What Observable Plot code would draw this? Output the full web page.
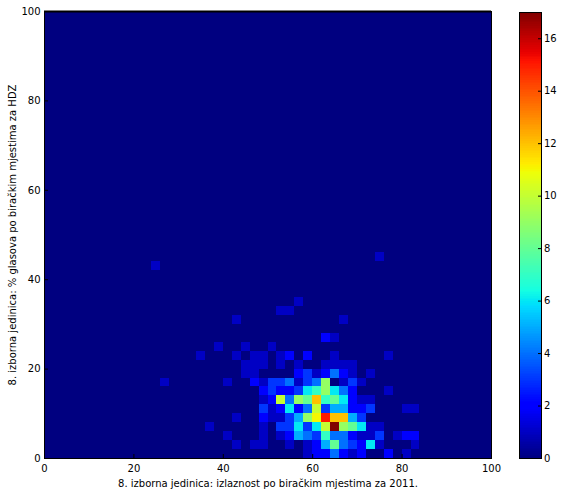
<!DOCTYPE html>
<html>
<head>
<meta charset="utf-8">
<script src="https://cdn.jsdelivr.net/npm/d3@7"></script>
<script src="https://cdn.jsdelivr.net/npm/@observablehq/plot@0.6"></script>
<style>
html,body{margin:0;padding:0;background:#fff;}
#chart{position:relative;width:562px;height:495px;overflow:hidden;}
#chart svg{position:absolute;left:0;top:0;background:transparent;}
</style>
</head>
<body>
<div id="chart"></div>
<script>
const xLabel = "8. izborna jedinica: izlaznost po biračkim mjestima za 2011.";
const yLabel = "8. izborna jedinica: % glasova po biračkim mjestima za HDZ";
const axisTicks = [0, 20, 40, 60, 80, 100];
const barTicks = [0, 2, 4, 6, 8, 10, 12, 14, 16];
const binWidth = 2;
const binCount = 50;
const maxCount = 17;

// [column, count] pairs per row of the 2-D histogram; absent bins are zero
const row0  = [[29,1],[30,2],[31,2],[32,4],[33,2],[34,1],[35,2],[38,2],[40,1]];
const row1  = [[21,1],[23,1],[24,1],[27,1],[29,1],[30,2],[31,5],[32,8],[33,4],[34,3],[35,2],[36,6],[37,1],[41,1]];
const row2  = [[20,1],[24,1],[26,1],[27,2],[28,5],[29,4],[30,3],[31,7],[32,4],[33,4],[34,2],[35,1],[36,1],[37,3],[39,1],[40,2],[41,2]];
const row3  = [[18,1],[24,1],[26,3],[27,3],[28,6],[29,3],[30,6],[31,10],[32,17],[33,9],[34,8],[35,6],[36,1],[37,1]];
const row4  = [[21,1],[24,2],[25,1],[26,1],[27,3],[28,5],[29,9],[30,11],[31,15],[32,12],[33,12],[34,5],[35,3]];
const row5  = [[24,3],[25,1],[26,2],[27,6],[28,2],[29,4],[30,10],[31,3],[32,5],[33,5],[34,2],[35,2],[36,3],[40,1],[41,1]];
const row6  = [[24,1],[25,2],[26,10],[27,4],[28,9],[29,8],[30,12],[31,7],[32,8],[33,6],[34,2],[35,1],[36,1]];
const row7  = [[24,2],[25,3],[26,2],[27,2],[28,3],[29,6],[30,7],[31,9],[32,6],[33,4],[34,2],[38,1]];
const row8  = [[13,1],[20,1],[23,2],[24,1],[25,3],[26,3],[27,4],[28,1],[29,3],[30,4],[31,9],[33,1],[34,3],[35,1]];
const row9  = [[22,1],[23,1],[28,2],[29,3],[30,1],[31,2],[32,4],[33,2],[34,1],[36,1]];
const row10 = [[22,1],[23,1],[24,1],[26,1],[28,1],[31,1],[32,1],[33,1],[34,1]];
const row11 = [[17,1],[21,1],[23,1],[24,1],[26,1],[27,2],[29,2],[32,1],[38,1]];
const row12 = [[19,1],[22,1],[25,1]];
const row13 = [[31,2],[32,1]];
const row15 = [[21,1],[33,1]];
const row16 = [[26,1],[27,1]];
const row17 = [[28,1]];
const row21 = [[12,1]];
const row22 = [[37,1]];
const rows = {0:row0,1:row1,2:row2,3:row3,4:row4,5:row5,6:row6,7:row7,8:row8,9:row9,10:row10,11:row11,12:row12,13:row13,15:row15,16:row16,17:row17,21:row21,22:row22};

const counts = new Map();
for (const [r, list] of Object.entries(rows)) for (const [c, n] of list) counts.set(c + ":" + r, n);
const cells = [];
for (let r = 0; r < binCount; r++) for (let c = 0; c < binCount; c++) {
  cells.push({x1: c * binWidth, x2: (c + 1) * binWidth, y1: r * binWidth, y2: (r + 1) * binWidth, n: counts.get(c + ":" + r) || 0});
}

// matplotlib "jet"
const ramp = (t, pts) => {
  for (let i = 1; i < pts.length; i++) if (t <= pts[i][0]) {
    const [a, va] = pts[i - 1], [b, vb] = pts[i];
    return va + (vb - va) * (t - a) / (b - a);
  }
  return pts[pts.length - 1][1];
};
const jet = t => {
  const r = ramp(t, [[0,0],[0.35,0],[0.66,1],[0.89,1],[1,0.5]]);
  const g = ramp(t, [[0,0],[0.125,0],[0.375,1],[0.64,1],[0.91,0],[1,0]]);
  const b = ramp(t, [[0,0.5],[0.11,1],[0.34,1],[0.65,0],[1,0]]);
  return `rgb(${Math.round(r*255)},${Math.round(g*255)},${Math.round(b*255)})`;
};
const colorScale = {type: "linear", domain: [0, maxCount], interpolate: jet};
const fontStyle = {fontFamily: "DejaVu Sans", fontSize: "10px", color: "#000", background: "transparent"};

const main = Plot.plot({
  width: 562, height: 495,
  marginLeft: 44, marginRight: 71, marginTop: 11, marginBottom: 37,
  style: fontStyle,
  x: {domain: [0, 100]},
  y: {domain: [0, 100]},
  color: colorScale,
  marks: [
    Plot.rect(cells, {x1: "x1", x2: "x2", y1: "y1", y2: "y2", fill: "n", shapeRendering: "crispEdges"}),
    Plot.frame({stroke: "#000", strokeWidth: 1, strokeOpacity: 1}),
    Plot.ruleY([100], {stroke: "#000", strokeWidth: 2}),
    Plot.axisX({ticks: axisTicks, tickSize: -4, tickPadding: 10, tickFormat: d => d, label: xLabel, labelAnchor: "center", labelArrow: "none", labelOffset: 28.5}),
    Plot.axisY({ticks: axisTicks, tickSize: -4, tickPadding: 8, tickFormat: d => d, label: yLabel, labelAnchor: "center", labelArrow: "none", labelOffset: 36})
  ]
});

const levels = d3.range(256).map(i => ({y1: i / 256 * maxCount, y2: (i + 1) / 256 * maxCount, v: (i + 0.5) / 256 * maxCount}));
const bar = Plot.plot({
  width: 562, height: 495,
  marginLeft: 519, marginRight: 21, marginTop: 12, marginBottom: 37,
  style: fontStyle,
  x: {domain: [0, 1], axis: null},
  y: {domain: [0, maxCount], axis: null},
  color: colorScale,
  marks: [
    Plot.rect(levels, {x1: 0, x2: 1, y1: "y1", y2: "y2", fill: "v", shapeRendering: "crispEdges"}),
    Plot.frame({stroke: "#000", strokeWidth: 1, strokeOpacity: 1}),
    Plot.axisY({anchor: "right", ticks: barTicks, tickSize: -4, tickPadding: 6.5, tickFormat: d => d, label: null})
  ]
});

const root = document.getElementById("chart");
root.appendChild(main);
root.appendChild(bar);
</script>
</body>
</html>
